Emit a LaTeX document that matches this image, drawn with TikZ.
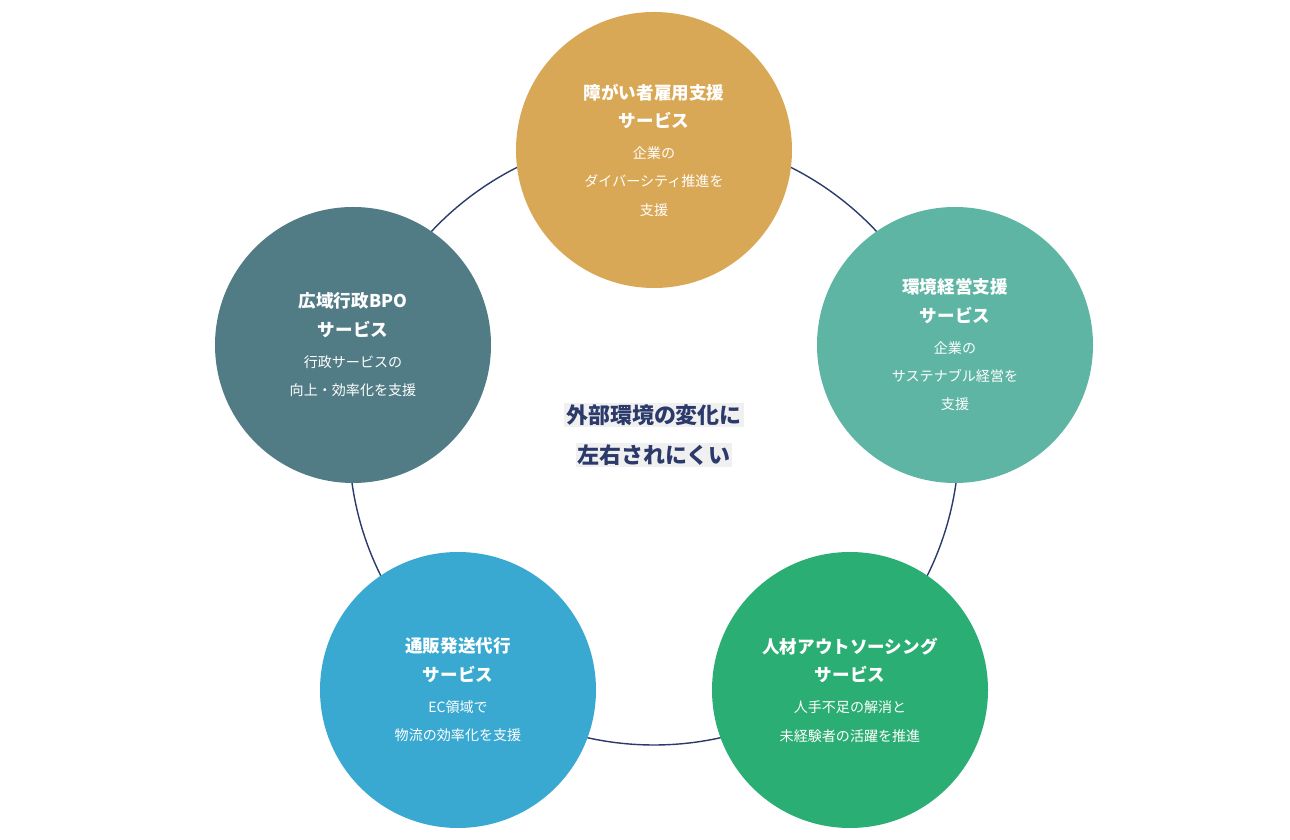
\documentclass[tikz,border=0pt]{standalone}
\usepackage{fontspec}
\setmainfont{Noto Sans CJK JP}
\newfontfamily\cjkbold{Noto Sans CJK JP}[FakeBold=1.5]
\definecolor{ringblue}{HTML}{2B3A6B}
\definecolor{colTop}{HTML}{D9A856}
\definecolor{colRight}{HTML}{5FB5A3}
\definecolor{colBR}{HTML}{2BAE73}
\definecolor{colBL}{HTML}{3AA9D1}
\definecolor{colLeft}{HTML}{527C85}
\tikzset{
  service/.style={circle, minimum size=5.52cm, inner sep=0pt, text=white, align=center, font=\fontsize{8}{16}\selectfont},
  hl/.style={fill=gray!12, inner sep=1pt, text=ringblue, font=\fontsize{12.5}{14}\selectfont\bfseries}
}
\newcommand{\svtitle}[1]{{\fontsize{10}{22}\selectfont\bfseries #1}}
\begin{document}
\begin{tikzpicture}
\useasboundingbox (0,0) rectangle (25.8,16.8);
\coordinate (hub) at (13.08,8.0);
\draw[ringblue, thick] (hub) circle (6.1);
\node[service, fill=colTop] (top) at (13.08,13.8) {\svtitle{障がい者雇用支援}\\\svtitle{サービス}\\[2pt]企業の\\ダイバーシティ推進を\\支援};
\node[service, fill=colRight] (right) at (19.1,9.9) {\svtitle{環境経営支援}\\\svtitle{サービス}\\[2pt]企業の\\サステナブル経営を\\支援};
\node[service, fill=colBR] (botright) at (17.0,3.0) {\svtitle{人材アウトソーシング}\\\svtitle{サービス}\\[2pt]人手不足の解消と\\未経験者の活躍を推進};
\node[service, fill=colBL] (botleft) at (9.16,3.0) {\svtitle{通販発送代行}\\\svtitle{サービス}\\[2pt]EC領域で\\物流の効率化を支援};
\node[service, fill=colLeft] (left) at (7.06,9.9) {\svtitle{広域行政BPO}\\\svtitle{サービス}\\[2pt]行政サービスの\\向上・効率化を支援};
% centre message
\node[hl] (msgA) at (13.08,8.5) {外部環境の変化に};
\node[hl] (msgB) at (13.08,7.7) {左右されにくい};
\end{tikzpicture}
\end{document}
